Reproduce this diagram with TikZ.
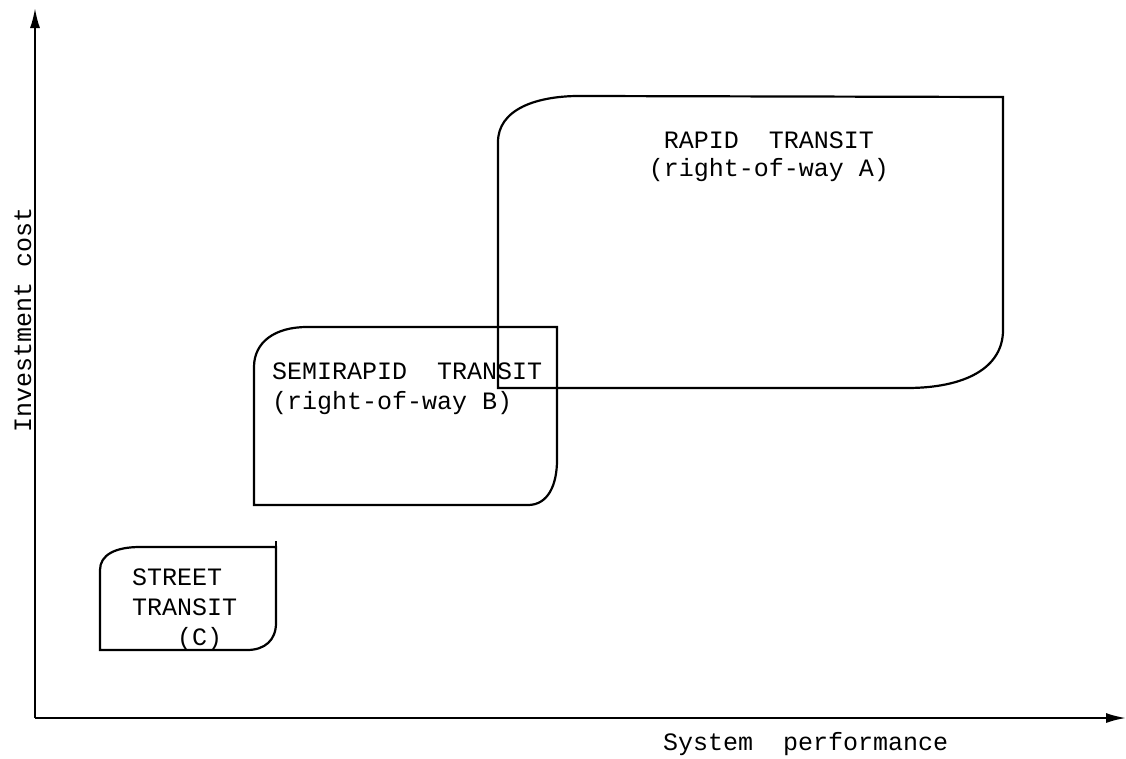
\documentclass[tikz,border=0pt]{standalone}
\usepackage{fontspec}
\setmonofont{Liberation Mono}
\usepackage{tikz}
\usetikzlibrary{arrows.meta,positioning}

\begin{document}
\begin{tikzpicture}[
  x=1pt, y=-1pt,
  axis/.style={line width=2pt, -{Latex[length=20pt, width=10pt]}},
  region/.style={draw, line width=2.2pt},
  lbl/.style={font=\fontsize{25}{30}\selectfont\ttfamily, inner sep=0pt}
]
  \useasboundingbox (0,0) rectangle (1126,758);

  % axes
  \coordinate (O)    at (35,718);
  \coordinate (ytip) at (35,8);
  \coordinate (xtip) at (1126,718);
  \draw[axis] (O) -- (ytip);
  \draw[axis] (O) -- (xtip);
  \node[lbl, rotate=90, anchor=base] (ylab) at (31,320) {Investment cost};
  \node[lbl, anchor=base west] (xlab) at (663,750) {System\ \ performance};

  % rapid transit
  \draw[region] (498,388) -- (498,142) .. controls (498,110) and (535,95) .. (585,96)
    -- (1003,97) -- (1003,330) .. controls (1003,368) and (965,388) .. (907,388) -- cycle;
  % multi-line nodes: base is the last line
  \node[lbl, align=center, anchor=base, font=\fontsize{25}{28}\selectfont\ttfamily]
    (rapid) at (769,176) {RAPID\ \ TRANSIT\\(right-of-way A)};

  % semirapid transit
  \draw[region] (254,505) -- (254,367) .. controls (254,342) and (275,327) .. (307,327)
    -- (557,327) -- (557,460) .. controls (557,485) and (548,505) .. (528,505) -- cycle;
  \node[lbl, align=left, anchor=base west] (semi) at (272,409)
    {SEMIRAPID\ \ TRANSIT\\(right-of-way B)};

  % street transit
  \draw[region] (100,650) -- (100,570) .. controls (100,555) and (115,547) .. (140,547)
    -- (276,547) -- (276,623) .. controls (276,640) and (265,650) .. (247,650) -- cycle;
  \draw[region] (276,547) -- (276,541);
  \node[lbl, align=left, anchor=base west] (street) at (132,645)
    {STREET\\TRANSIT\\\hspace*{1.8em}(C)};
\end{tikzpicture}
\end{document}
